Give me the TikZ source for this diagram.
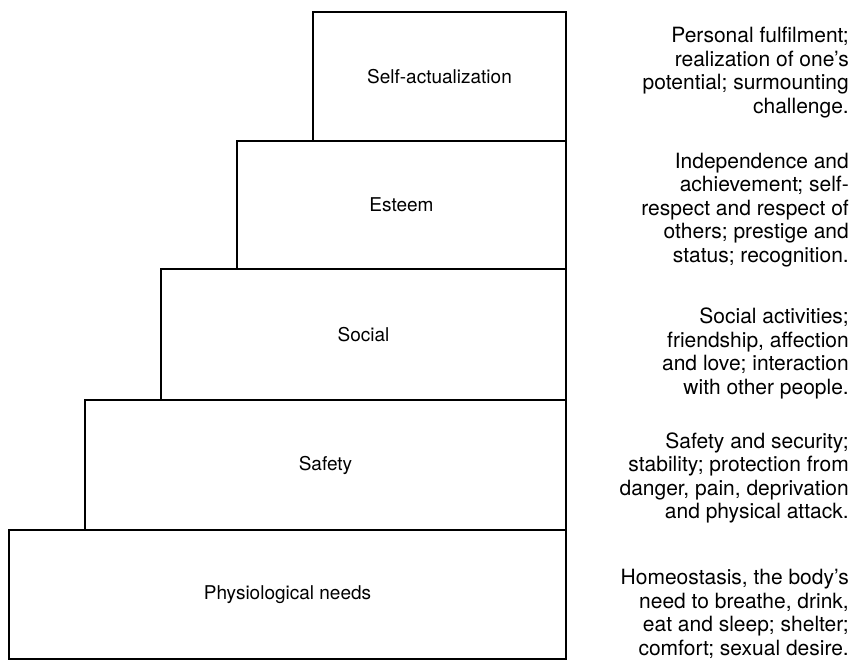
\documentclass[tikz,border=0pt]{standalone}
\usepackage{fontspec}
\setmainfont{TeX Gyre Heros}
\begin{document}
\begin{tikzpicture}[x=1pt,y=-1pt,
  level/.style={draw=black,line width=1.7pt,rectangle,inner sep=0pt,
    font=\fontsize{19}{22}\selectfont},
  note/.style={anchor=east,align=right,inner sep=0pt,
    font=\fontsize{21}{23.5}\selectfont}]
\useasboundingbox (0,0) rectangle (858,661);
% hierarchy steps, bottom to top
\node[level,minimum width=557pt,minimum height=129pt] (phys) at (287.5,594.5) {Physiological needs};
\node[level,minimum width=481pt,minimum height=130pt] (safe) at (325.5,465) {Safety};
\node[level,minimum width=405pt,minimum height=131pt] (soc) at (363.5,334.5) {Social};
\node[level,minimum width=329pt,minimum height=128pt] (est) at (401.5,205) {Esteem};
\node[level,minimum width=253pt,minimum height=129pt] (self) at (439.5,76.5) {Self-actualization};
% descriptions of each level
\node[note] (dself) at (849,72.5) {Personal fulfilment;\\realization of one's\\potential; surmounting\\challenge.};
\node[note] (dest) at (849,210) {Independence and\\achievement; self-\\respect and respect of\\others; prestige and\\status; recognition.};
\node[note] (dsoc) at (849,353.5) {Social activities;\\friendship, affection\\and love; interaction\\with other people.};
\node[note] (dsafe) at (849,478) {Safety and security;\\stability; protection from\\danger, pain, deprivation\\and physical attack.};
\node[note] (dphys) at (849,614) {Homeostasis, the body's\\need to breathe, drink,\\eat and sleep; shelter;\\comfort; sexual desire.};
\end{tikzpicture}
\end{document}
